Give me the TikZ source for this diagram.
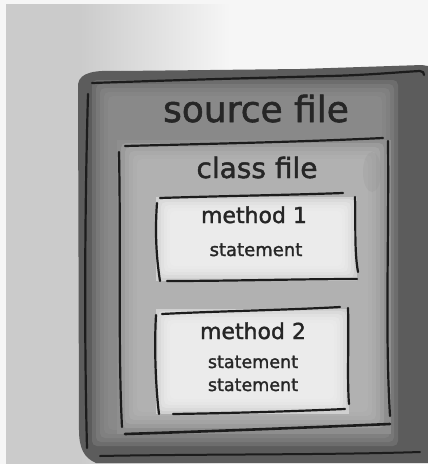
\documentclass[tikz,border=0pt]{standalone}
\usepackage{fontspec}
\setmainfont{DejaVu Sans}[FakeBold=1.6]
\definecolor{ink}{HTML}{1C1C1C}
\definecolor{txt}{HTML}{262626}
\definecolor{paper}{HTML}{F6F6F6}
\definecolor{gutter}{HTML}{CBCBCB}
\definecolor{washdark}{HTML}{5C5C5C}
\definecolor{washmid}{HTML}{929292}
\definecolor{classedge}{HTML}{8E8E8E}
\definecolor{classfill}{HTML}{B8B8B8}
\definecolor{methodedge}{HTML}{D0D0D0}
\definecolor{methodfill}{HTML}{F2F2F2}
% soft watercolour patch: nested translucent rectangles
\newcommand\softpatch[6]{% x1 y1 x2 y2 colour step
  \foreach \k in {0,...,4}{%
    \fill[#5, opacity=0.32, rounded corners=5pt]
      ({#1+\k*#6},{#2+\k*#6}) rectangle ({#3-\k*#6},{#4-\k*#6});}}
\begin{document}
\begin{tikzpicture}[x=1pt, y=-1pt,
  pen/.style={draw=ink, line width=2.2pt, line cap=round, line join=round},
  lbl/.style={text=txt, inner sep=0pt, anchor=base}]
\useasboundingbox (0,0) rectangle (428,464);

% paper with the shadow of the binding on the left
\fill[paper] (0,0) rectangle (428,464);
\fill[gutter] (6,4) rectangle (80,464);
\shade[left color=gutter, right color=paper] (80,4) rectangle (230,464);

% outer wash (source file)
\fill[washdark] (78,84) .. controls (80,72) and (95,70) .. (120,71)
  -- (300,69) -- (422,65) -- (428,66) -- (428,463) -- (96,463)
  .. controls (84,458) and (79,448) .. (79,430) -- cycle;
\softpatch{92}{80}{398}{446}{washmid}{4}

% class file wash
\fill[classedge] (117,140) rectangle (391,434);
\softpatch{121}{143}{384}{428}{classfill}{4}
\fill[classedge, opacity=0.2] (372,172) ellipse (9pt and 20pt);

% method washes
\fill[methodedge] (156,197) rectangle (357,281);
\softpatch{158}{199}{354}{278}{methodfill}{3}
\fill[methodedge] (156,309) rectangle (349,414);
\softpatch{158}{311}{346}{411}{methodfill}{3}

% source file outline
\draw[pen] (92,83) .. controls (180,80) and (250,78) .. (330,76)
  .. controls (370,75) and (400,72) .. (420,71) .. controls (423,71) and (424,73) .. (424,75);
\draw[pen] (88,94) .. controls (85,200) and (84,330) .. (87,448);
\draw[pen, line width=2pt] (100,456) .. controls (200,454) and (330,455) .. (420,452);

% class file outline
\draw[pen] (125,146) .. controls (200,144) and (300,142) .. (383,138);
\draw[pen] (119,152) .. controls (121,250) and (118,350) .. (122,427);
\draw[pen] (388,141) .. controls (389,250) and (385,330) .. (390,416);
\draw[pen, line width=2.6pt] (125,434) .. controls (220,431) and (320,427) .. (390,424);

% method 1 outline
\draw[pen] (160,198) .. controls (220,196) and (290,195) .. (343,193);
\draw[pen] (157,203) .. controls (155,230) and (156,255) .. (160,281);
\draw[pen] (355,197) .. controls (356,220) and (354,250) .. (358,272);
\draw[pen] (167,281) .. controls (230,281) and (300,279) .. (357,279);

% method 2 outline
\draw[pen] (162,314) .. controls (220,311) and (290,310) .. (340,307);
\draw[pen] (156,315) .. controls (154,350) and (156,390) .. (159,414);
\draw[pen] (348,308) .. controls (349,340) and (347,380) .. (349,404);
\draw[pen] (173,414) .. controls (240,413) and (300,411) .. (345,409);

% labels
\node[lbl, font=\fontsize{36}{40}\selectfont] (src) at (256,122) {source file};
\node[lbl, font=\fontsize{28}{32}\selectfont] (cls) at (257,178) {class file};
\node[lbl, font=\fontsize{22}{26}\selectfont] (m1) at (254,223) {method 1};
\node[lbl, font=\fontsize{18}{22}\selectfont] (m1s) at (256,256) {statement};
\node[lbl, font=\fontsize{22}{26}\selectfont] (m2) at (253,339) {method 2};
\node[lbl, font=\fontsize{17.5}{21}\selectfont] (m2s1) at (253,368) {statement};
\node[lbl, font=\fontsize{17.5}{21}\selectfont] (m2s2) at (253,391) {statement};
\end{tikzpicture}
\end{document}
